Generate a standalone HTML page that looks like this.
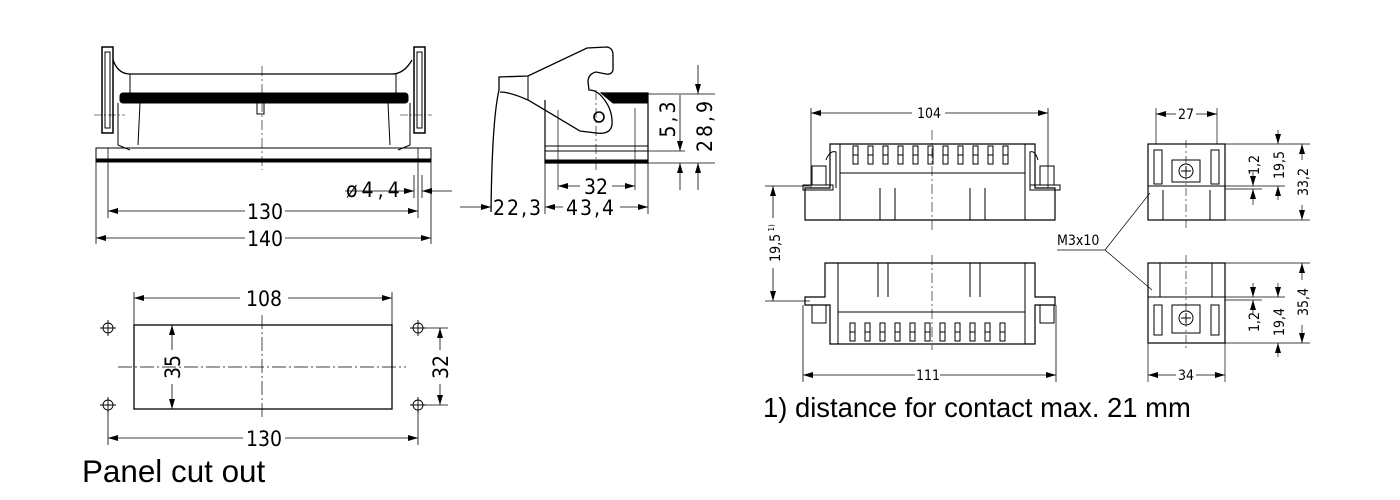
<!DOCTYPE html>
<html><head><meta charset="utf-8"><style>
html,body{margin:0;padding:0;background:#fff}
svg{display:block}
text{font-family:"DejaVu Sans Condensed","Liberation Sans Narrow","Liberation Sans",sans-serif;fill:#000}
</style></head><body>
<svg width="1400" height="500" viewBox="0 0 1400 500" xmlns="http://www.w3.org/2000/svg">
<defs>
<marker id="a" viewBox="0 0 10 6" refX="10" refY="3" markerWidth="10" markerHeight="6" orient="auto-start-reverse" markerUnits="userSpaceOnUse"><path d="M0,0 L10,3 L0,6z" fill="#000"/></marker>
</defs>
<g stroke="#000" stroke-width="1" fill="none">
<path d="M113,60 Q118,74 130,74 L392,74 Q404,74 412,60" stroke-width="1.3"/>
<rect x="120" y="93" width="288" height="10" fill="#000" rx="3"/>
<line x1="130" y1="74" x2="130" y2="93"/><line x1="396" y1="74" x2="396" y2="93"/>
<path d="M118,103 L118,145 L130,150 M140,103 L138,145 M388,103 L390,145 M410,103 L410,145 L398,150"/>
<rect x="257" y="103" width="7" height="11"/>
<rect x="96" y="148" width="335" height="12"/>
<rect x="96" y="159" width="335" height="3" fill="#000"/>
<rect x="102" y="47" width="11" height="86" stroke-width="1.5"/>
<rect x="105" y="52" width="5" height="76"/>
<rect x="414" y="47" width="11" height="86" stroke-width="1.5"/>
<rect x="417" y="52" width="5" height="76"/>
<line x1="94" y1="115" x2="125" y2="115" stroke-dasharray="8,2,2,2" stroke-width=".6"/>
<line x1="400" y1="115" x2="432" y2="115" stroke-dasharray="8,2,2,2" stroke-width=".6"/>
<line x1="262" y1="66" x2="262" y2="170" stroke-dasharray="10,3,2,3" stroke-width=".6"/>
<g stroke-width=".8">
<line x1="96" y1="162" x2="96" y2="244"/><line x1="431" y1="148" x2="431" y2="244"/>
<line x1="108" y1="148" x2="108" y2="218"/><line x1="418" y1="148" x2="418" y2="218"/>
<line x1="414" y1="175" x2="414" y2="198"/><line x1="422" y1="175" x2="422" y2="198"/>
<line x1="108" y1="211" x2="245" y2="211" marker-start="url(#a)"/><line x1="285" y1="211" x2="418" y2="211" marker-end="url(#a)"/>
<line x1="96" y1="238" x2="245" y2="238" marker-start="url(#a)"/><line x1="285" y1="238" x2="431" y2="238" marker-end="url(#a)"/>
<line x1="345" y1="191" x2="414" y2="191" marker-end="url(#a)"/><line x1="452" y1="191" x2="422" y2="191" marker-end="url(#a)"/>
</g>
<path d="M491,212 Q492,120 499,90 L499,77 L528,76 L587,48 L607,47 Q613,48 613,55 L613,70 Q612,75 606,74 L596,72 Q588,74 588,82 L589,90 Q597,90 603,98 Q613,110 612,125 Q610,135 596,133 L580,131 L528,100 Q510,92 500,92" stroke-width="1.3"/>
<line x1="528" y1="76" x2="528" y2="100"/>
<circle cx="599" cy="117" r="5" stroke-width="1.6"/>
<path d="M545,100 L545,163 L648,163 L648,93 L601,93" stroke-width="1.2"/>
<path d="M601,93 L648,93 L648,103 L613,103 Z" fill="#000"/>
<line x1="545" y1="146" x2="648" y2="146"/><line x1="545" y1="151" x2="648" y2="151"/>
<rect x="545" y="160" width="103" height="3" fill="#000"/>
<line x1="558" y1="110" x2="558" y2="190" stroke-width=".7"/><line x1="635" y1="108" x2="635" y2="190" stroke-width=".7"/>
<line x1="596" y1="90" x2="596" y2="170" stroke-dasharray="10,3,2,3" stroke-width=".6"/>
<g stroke-width=".8">
<line x1="545" y1="163" x2="545" y2="214"/><line x1="648" y1="163" x2="648" y2="214"/>
<line x1="558" y1="186" x2="580" y2="186" marker-start="url(#a)"/><line x1="612" y1="186" x2="635" y2="186" marker-end="url(#a)"/>
<line x1="460" y1="207" x2="491" y2="207" marker-end="url(#a)"/>
<line x1="545" y1="207" x2="563" y2="207" marker-start="url(#a)"/><line x1="620" y1="207" x2="648" y2="207" marker-end="url(#a)"/>
<line x1="648" y1="94" x2="715" y2="94"/><line x1="648" y1="163" x2="715" y2="163"/><line x1="648" y1="151" x2="685" y2="151"/>
<line x1="680" y1="95" x2="680" y2="151" marker-end="url(#a)"/><line x1="680" y1="190" x2="680" y2="163" marker-end="url(#a)"/>
<line x1="698" y1="65" x2="698" y2="94" marker-end="url(#a)"/><line x1="698" y1="190" x2="698" y2="163" marker-end="url(#a)"/>
</g>
<rect x="134" y="325" width="258" height="84" stroke-width="1.3"/>
<line x1="118" y1="367" x2="406" y2="367" stroke-dasharray="14,3,2,3" stroke-width=".7"/>
<line x1="262" y1="315" x2="262" y2="420" stroke-dasharray="14,3,2,3" stroke-width=".7"/>
<g stroke-width=".9">
<circle cx="108" cy="328" r="5"/><circle cx="108" cy="405" r="5"/><circle cx="418" cy="328" r="5"/><circle cx="418" cy="405" r="5"/>
<path d="M100,328h16M108,320v16M100,405h16M108,397v16M410,328h16M418,320v16M410,405h16M418,397v16"/>
</g>
<g stroke-width=".8">
<line x1="134" y1="292" x2="134" y2="325"/><line x1="392" y1="292" x2="392" y2="325"/>
<line x1="134" y1="298" x2="240" y2="298" marker-start="url(#a)"/><line x1="288" y1="298" x2="392" y2="298" marker-end="url(#a)"/>
<line x1="108" y1="410" x2="108" y2="445"/><line x1="418" y1="410" x2="418" y2="445"/>
<line x1="108" y1="438" x2="243" y2="438" marker-start="url(#a)"/><line x1="285" y1="438" x2="418" y2="438" marker-end="url(#a)"/>
<line x1="172" y1="325" x2="172" y2="350" marker-start="url(#a)"/><line x1="172" y1="384" x2="172" y2="409" marker-end="url(#a)"/>
<line x1="418" y1="328" x2="448" y2="328"/><line x1="418" y1="405" x2="448" y2="405"/>
<line x1="440" y1="328" x2="440" y2="350" marker-start="url(#a)"/><line x1="440" y1="384" x2="440" y2="405" marker-end="url(#a)"/>
</g>
<g stroke-width="1">
<path d="M830,144 L1035,144 L1035,188 L1055,188 L1055,220 L805,220 L805,188 L830,188 Z" stroke-width="1.2"/>
<line x1="840" y1="173" x2="1025" y2="173"/>
<line x1="840" y1="144" x2="840" y2="220"/><line x1="1025" y1="144" x2="1025" y2="220"/>
<line x1="880" y1="188" x2="880" y2="220"/><line x1="895" y1="188" x2="895" y2="220"/>
<line x1="970" y1="188" x2="970" y2="220"/><line x1="985" y1="188" x2="985" y2="220"/>
<rect x="803" y="185" width="30" height="5"/><rect x="1030" y="185" width="30" height="5"/>
<rect x="812" y="166" width="14" height="19"/><rect x="1040" y="166" width="14" height="19"/>
<path d="M826,160 Q830,150 836,152 L836,188 M1038,160 Q1035,150 1030,152 L1030,188"/>
</g>
<g stroke-width="1">
<path d="M853,146h5v18h-5z M868,146h5v18h-5z M883,146h5v18h-5z M898,146h5v18h-5z M913,146h5v18h-5z M928,146h5v18h-5z M943,146h5v18h-5z M958,146h5v18h-5z M973,146h5v18h-5z M988,146h5v18h-5z M1003,146h5v18h-5z"/>
<path d="M853,155h5M868,155h5M883,155h5M898,155h5M913,155h5M928,155h5M943,155h5M958,155h5M973,155h5M988,155h5M1003,155h5"/>
</g>
<g stroke-width="1">
<path d="M825,263 L1035,263 L1035,297 L1055,297 L1055,305 L1035,305 L1035,344 L830,344 L830,305 L805,305 L805,297 L825,297 Z" stroke-width="1.2"/>
<line x1="838" y1="312" x2="1025" y2="312"/>
<line x1="838" y1="263" x2="838" y2="344"/><line x1="1025" y1="263" x2="1025" y2="344"/>
<line x1="878" y1="263" x2="878" y2="297"/><line x1="888" y1="263" x2="888" y2="297"/>
<line x1="970" y1="263" x2="970" y2="297"/><line x1="980" y1="263" x2="980" y2="297"/>
<rect x="812" y="305" width="14" height="18"/><rect x="1040" y="305" width="14" height="18"/>
<path d="M850,323h5v18h-5z M865,323h5v18h-5z M880,323h5v18h-5z M895,323h5v18h-5z M910,323h5v18h-5z M925,323h5v18h-5z M940,323h5v18h-5z M955,323h5v18h-5z M970,323h5v18h-5z M985,323h5v18h-5z M1000,323h5v18h-5z"/>
<path d="M850,332h5M865,332h5M880,332h5M895,332h5M910,332h5M925,332h5M940,332h5M955,332h5M970,332h5M985,332h5M1000,332h5"/>
</g>
<line x1="932" y1="130" x2="932" y2="230" stroke-dasharray="10,3,2,3" stroke-width=".6"/>
<line x1="932" y1="255" x2="932" y2="350" stroke-dasharray="10,3,2,3" stroke-width=".6"/>
<g stroke-width=".8">
<line x1="811" y1="108" x2="811" y2="188"/><line x1="1048" y1="108" x2="1048" y2="188"/>
<line x1="811" y1="113" x2="912" y2="113" marker-start="url(#a)"/><line x1="945" y1="113" x2="1048" y2="113" marker-end="url(#a)"/>
<line x1="803" y1="305" x2="803" y2="382"/><line x1="1056" y1="305" x2="1056" y2="382"/>
<line x1="803" y1="375" x2="915" y2="375" marker-start="url(#a)"/><line x1="940" y1="375" x2="1056" y2="375" marker-end="url(#a)"/>
<line x1="765" y1="186" x2="810" y2="186"/><line x1="765" y1="301" x2="810" y2="301"/>
<line x1="773" y1="186" x2="773" y2="218" marker-start="url(#a)"/><line x1="773" y1="268" x2="773" y2="301" marker-end="url(#a)"/>
</g>
<g stroke-width="1">
<rect x="1148" y="144" width="77" height="76" stroke-width="1.2"/>
<line x1="1148" y1="186" x2="1225" y2="186"/>
<rect x="1172" y="160" width="28" height="22"/><circle cx="1186" cy="171" r="7"/><path d="M1181,171h10M1186,166v10"/>
<rect x="1154" y="150" width="8" height="34"/><rect x="1211" y="150" width="8" height="34"/>
<line x1="1163" y1="190" x2="1163" y2="220"/><line x1="1210" y1="190" x2="1210" y2="220"/>
<rect x="1148" y="263" width="77" height="80" stroke-width="1.2"/>
<line x1="1148" y1="297" x2="1225" y2="297"/><line x1="1160" y1="263" x2="1160" y2="297"/><line x1="1212" y1="263" x2="1212" y2="297"/>
<rect x="1172" y="305" width="28" height="28"/><circle cx="1186" cy="318" r="7"/><path d="M1181,318h10M1186,313v10"/>
<rect x="1154" y="305" width="8" height="30"/><rect x="1211" y="305" width="8" height="30"/>
</g>
<line x1="1186" y1="140" x2="1186" y2="230" stroke-dasharray="8,3,2,3" stroke-width=".6"/>
<line x1="1186" y1="255" x2="1186" y2="350" stroke-dasharray="8,3,2,3" stroke-width=".6"/>
<g stroke-width=".7">
<path d="M1057,250 L1105,250 L1150,193 M1105,250 L1152,290"/>
<line x1="1156" y1="108" x2="1156" y2="144"/><line x1="1217" y1="108" x2="1217" y2="144"/>
<line x1="1156" y1="114" x2="1176" y2="114" marker-start="url(#a)"/><line x1="1196" y1="114" x2="1217" y2="114" marker-end="url(#a)"/>
<line x1="1148" y1="343" x2="1148" y2="382"/><line x1="1225" y1="343" x2="1225" y2="382"/>
<line x1="1148" y1="375" x2="1176" y2="375" marker-start="url(#a)"/><line x1="1196" y1="375" x2="1225" y2="375" marker-end="url(#a)"/>
<line x1="1225" y1="144" x2="1310" y2="144"/><line x1="1225" y1="186" x2="1285" y2="186"/><line x1="1225" y1="189" x2="1262" y2="189"/><line x1="1225" y1="220" x2="1310" y2="220"/>
<line x1="1253" y1="172" x2="1253" y2="186" marker-end="url(#a)"/><line x1="1253" y1="205" x2="1253" y2="189" marker-end="url(#a)"/>
<line x1="1278" y1="130" x2="1278" y2="144" marker-end="url(#a)"/><line x1="1278" y1="200" x2="1278" y2="186" marker-end="url(#a)"/>
<line x1="1302" y1="144" x2="1302" y2="160" marker-start="url(#a)"/><line x1="1302" y1="205" x2="1302" y2="220" marker-end="url(#a)"/>
<line x1="1225" y1="263" x2="1310" y2="263"/><line x1="1225" y1="297" x2="1285" y2="297"/><line x1="1225" y1="300" x2="1262" y2="300"/><line x1="1225" y1="343" x2="1310" y2="343"/>
<line x1="1253" y1="283" x2="1253" y2="297" marker-end="url(#a)"/><line x1="1253" y1="315" x2="1253" y2="300" marker-end="url(#a)"/>
<line x1="1278" y1="283" x2="1278" y2="297" marker-end="url(#a)"/><line x1="1278" y1="357" x2="1278" y2="343" marker-end="url(#a)"/>
<line x1="1302" y1="263" x2="1302" y2="280" marker-start="url(#a)"/><line x1="1302" y1="325" x2="1302" y2="343" marker-end="url(#a)"/>
</g>
</g>
<g font-size="21">
<text x="265" y="219" text-anchor="middle">130</text>
<text x="265" y="246" text-anchor="middle">140</text>
<text x="346" y="197" letter-spacing="4">ø4,4</text>
<text x="596" y="194" text-anchor="middle">32</text>
<text x="518" y="215" text-anchor="middle" letter-spacing="2">22,3</text>
<text x="591" y="215" text-anchor="middle" letter-spacing="2">43,4</text>
<text transform="translate(675,118) rotate(-90)" text-anchor="middle" letter-spacing="3">5,3</text>
<text transform="translate(712,125) rotate(-90)" text-anchor="middle" letter-spacing="3">28,9</text>
<text x="264" y="306" text-anchor="middle">108</text>
<text x="264" y="446" text-anchor="middle">130</text>
<text transform="translate(180,367) rotate(-90)" text-anchor="middle">35</text>
<text transform="translate(448,367) rotate(-90)" text-anchor="middle">32</text>
</g>
<g font-size="14">
<text x="929" y="118" text-anchor="middle">104</text>
<text x="928" y="380" text-anchor="middle">111</text>
<text x="1186" y="119" text-anchor="middle">27</text>
<text x="1186" y="380" text-anchor="middle">34</text>
<text x="1057" y="245">M3x10</text>
<text transform="translate(780,243) rotate(-90)" text-anchor="middle">19,5<tspan font-size="8" dy="-6"> 1)</tspan></text>
<text transform="translate(1259,165) rotate(-90)" text-anchor="middle">1,2</text>
<text transform="translate(1284,165) rotate(-90)" text-anchor="middle">19,5</text>
<text transform="translate(1308,182) rotate(-90)" text-anchor="middle">33,2</text>
<text transform="translate(1259,322) rotate(-90)" text-anchor="middle">1,2</text>
<text transform="translate(1284,322) rotate(-90)" text-anchor="middle">19,4</text>
<text transform="translate(1308,302) rotate(-90)" text-anchor="middle">35,4</text>
</g>
<text x="763" y="417" font-size="27.4" style="font-family:'Liberation Sans',sans-serif">1) distance for contact max. 21 mm</text>
<text x="82" y="482" font-size="31.4" style="font-family:'Liberation Sans',sans-serif">Panel cut out</text>
</svg>
</body></html>
